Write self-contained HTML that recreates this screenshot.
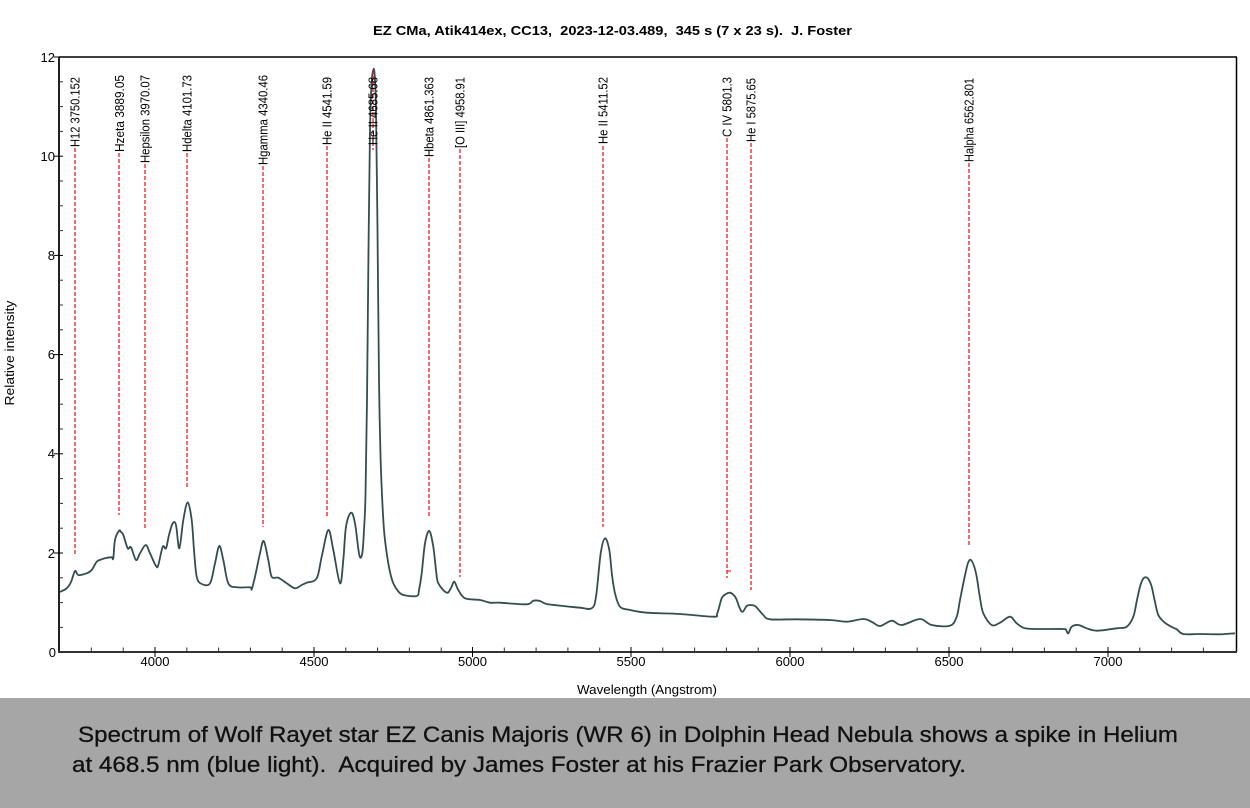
<!DOCTYPE html>
<html>
<head>
<meta charset="utf-8">
<style>
  html,body{margin:0;padding:0;background:#fff;}
  svg{display:block;}
  text{font-family:"Liberation Sans",Arial,sans-serif;white-space:pre;}
</style>
</head>
<body>
<svg width="1250" height="808" viewBox="0 0 1250 808" xmlns="http://www.w3.org/2000/svg">
  <rect x="0" y="0" width="1250" height="808" fill="#fff"/>

  <!-- Title -->
  <text x="373" y="35" font-size="13" font-weight="bold" fill="#000" textLength="479" lengthAdjust="spacingAndGlyphs">EZ CMa, Atik414ex, CC13,  2023-12-03.489,  345 s (7 x 23 s).  J. Foster</text>

  <!-- Plot frame -->
  <line x1="59" y1="57" x2="1237" y2="57" stroke="#000" stroke-width="1.5"/>
  <line x1="1236.5" y1="57" x2="1236.5" y2="652" stroke="#000" stroke-width="1.5"/>
  <line x1="59" y1="56.5" x2="59" y2="653" stroke="#222" stroke-width="2"/>
  <line x1="58" y1="652" x2="1237" y2="652" stroke="#333" stroke-width="2"/>

  <!-- Y ticks major -->
  <g stroke="#000" stroke-width="1">
    <line x1="54" y1="57" x2="63" y2="57"/>
    <line x1="54" y1="156.2" x2="63" y2="156.2"/>
    <line x1="54" y1="255.4" x2="63" y2="255.4"/>
    <line x1="54" y1="354.6" x2="63" y2="354.6"/>
    <line x1="54" y1="453.8" x2="63" y2="453.8"/>
    <line x1="54" y1="553" x2="63" y2="553"/>
  </g>
  <!-- Y ticks minor -->
  <g stroke="#333" stroke-width="1">
    <line x1="59" y1="81.8" x2="63" y2="81.8"/>
    <line x1="59" y1="106.6" x2="63" y2="106.6"/>
    <line x1="59" y1="131.4" x2="63" y2="131.4"/>
    <line x1="59" y1="181" x2="63" y2="181"/>
    <line x1="59" y1="205.8" x2="63" y2="205.8"/>
    <line x1="59" y1="230.6" x2="63" y2="230.6"/>
    <line x1="59" y1="280.2" x2="63" y2="280.2"/>
    <line x1="59" y1="305" x2="63" y2="305"/>
    <line x1="59" y1="329.8" x2="63" y2="329.8"/>
    <line x1="59" y1="379.4" x2="63" y2="379.4"/>
    <line x1="59" y1="404.2" x2="63" y2="404.2"/>
    <line x1="59" y1="429" x2="63" y2="429"/>
    <line x1="59" y1="478.6" x2="63" y2="478.6"/>
    <line x1="59" y1="503.4" x2="63" y2="503.4"/>
    <line x1="59" y1="528.2" x2="63" y2="528.2"/>
    <line x1="59" y1="577.8" x2="63" y2="577.8"/>
    <line x1="59" y1="602.6" x2="63" y2="602.6"/>
    <line x1="59" y1="627.4" x2="63" y2="627.4"/>
  </g>
  <!-- Y tick labels -->
  <g font-size="13" fill="#000" text-anchor="end">
    <text x="55" y="62">12</text>
    <text x="55" y="161">10</text>
    <text x="55" y="260">8</text>
    <text x="55" y="359">6</text>
    <text x="55" y="458">4</text>
    <text x="55" y="558">2</text>
    <text x="56" y="657">0</text>
  </g>

  <!-- X ticks major -->
  <g stroke="#000" stroke-width="1">
    <line x1="155" y1="647" x2="155" y2="657"/>
    <line x1="314" y1="647" x2="314" y2="657"/>
    <line x1="472.5" y1="647" x2="472.5" y2="657"/>
    <line x1="631" y1="647" x2="631" y2="657"/>
    <line x1="790" y1="647" x2="790" y2="657"/>
    <line x1="949" y1="647" x2="949" y2="657"/>
    <line x1="1108" y1="647" x2="1108" y2="657"/>
  </g>
  <!-- X ticks minor -->
  <g stroke="#333" stroke-width="1">
    <line x1="91.3" y1="647.5" x2="91.3" y2="652"/>
    <line x1="123.2" y1="647.5" x2="123.2" y2="652"/>
    <line x1="186.8" y1="647.5" x2="186.8" y2="652"/>
    <line x1="218.6" y1="647.5" x2="218.6" y2="652"/>
    <line x1="250.4" y1="647.5" x2="250.4" y2="652"/>
    <line x1="282.2" y1="647.5" x2="282.2" y2="652"/>
    <line x1="345.8" y1="647.5" x2="345.8" y2="652"/>
    <line x1="377.6" y1="647.5" x2="377.6" y2="652"/>
    <line x1="409.4" y1="647.5" x2="409.4" y2="652"/>
    <line x1="441.2" y1="647.5" x2="441.2" y2="652"/>
    <line x1="504.3" y1="647.5" x2="504.3" y2="652"/>
    <line x1="536.1" y1="647.5" x2="536.1" y2="652"/>
    <line x1="567.9" y1="647.5" x2="567.9" y2="652"/>
    <line x1="599.7" y1="647.5" x2="599.7" y2="652"/>
    <line x1="662.8" y1="647.5" x2="662.8" y2="652"/>
    <line x1="694.6" y1="647.5" x2="694.6" y2="652"/>
    <line x1="726.4" y1="647.5" x2="726.4" y2="652"/>
    <line x1="758.2" y1="647.5" x2="758.2" y2="652"/>
    <line x1="821.8" y1="647.5" x2="821.8" y2="652"/>
    <line x1="853.6" y1="647.5" x2="853.6" y2="652"/>
    <line x1="885.4" y1="647.5" x2="885.4" y2="652"/>
    <line x1="917.2" y1="647.5" x2="917.2" y2="652"/>
    <line x1="980.8" y1="647.5" x2="980.8" y2="652"/>
    <line x1="1012.6" y1="647.5" x2="1012.6" y2="652"/>
    <line x1="1044.4" y1="647.5" x2="1044.4" y2="652"/>
    <line x1="1076.2" y1="647.5" x2="1076.2" y2="652"/>
    <line x1="1139.8" y1="647.5" x2="1139.8" y2="652"/>
    <line x1="1171.6" y1="647.5" x2="1171.6" y2="652"/>
    <line x1="1203.4" y1="647.5" x2="1203.4" y2="652"/>
  </g>
  <!-- X tick labels -->
  <g font-size="13" fill="#000" text-anchor="middle">
    <text x="155" y="666">4000</text>
    <text x="314" y="666">4500</text>
    <text x="472.5" y="666">5000</text>
    <text x="631" y="666">5500</text>
    <text x="790" y="666">6000</text>
    <text x="949" y="666">6500</text>
    <text x="1108" y="666">7000</text>
  </g>

  <!-- Axis titles -->
  <text x="647" y="694" font-size="12.5" fill="#000" text-anchor="middle" textLength="140" lengthAdjust="spacingAndGlyphs">Wavelength (Angstrom)</text>
  <text transform="translate(14,353) rotate(-90)" font-size="12.5" fill="#000" text-anchor="middle" textLength="105" lengthAdjust="spacingAndGlyphs">Relative intensity</text>

  <!-- Spectrum -->
  <polyline id="spec" fill="none" stroke="#344e4e" stroke-width="1.8" stroke-linejoin="round" points="60,592 66.7,588.3 71,582 75,571 78.3,575 86.7,573.3 91.7,570 96.7,561.7 101.7,559.3 106,558 111.7,557.3 113.3,558.3 115,540 119,530.7 121,532 123.3,535 127.7,548.3 131,547.3 136,560 140,553.3 145.7,545 150,553.3 156,566 158.3,565 162.7,546.7 166,548.3 169,535 172.7,523.3 176,525 179.3,548.3 183.3,520 187.7,502.3 191.7,520 194,550 196.7,576.7 201.7,584 210,583.3 215,563.3 219.3,546 223.3,560 228.3,583.3 236.7,587.3 250,587.3 251.7,589.3 255,576.7 260,553.3 263.7,541 268.3,560 271.7,576.7 278.3,577.7 286.7,583.3 295,588.3 301.7,585 306.7,582.7 316.7,578.3 321.7,556.7 328.3,530 333.3,550 340,583.3 343.3,560 346,526.7 351,512.7 355,523.3 359.3,555 362.3,553.3 364,530 365.5,495 367,400 368.5,250 370,130 371.5,85 373,71 374.5,73 376,110 377.5,230 379,380 380.5,455 382,495 384,530 386.7,553.3 390,572 393.3,583.3 398,591 403.3,595 416.7,596 419,590 421.7,573.3 425,543.3 429.3,531 433.3,546.7 436,570 438.3,583.3 446.7,592.7 451,588 454.3,581.7 458.3,590 465,598.3 480,600 490,602.7 500,602.7 526.7,604.3 533.3,600.7 540,601 546.7,604 563.3,606 580,607.7 591.7,608.3 596,596.7 600.7,553.3 605,538.3 609.3,550 612,575 615,593.3 620,606.7 630,610 646.7,612.7 680,614 713.3,616.7 717.3,613.3 721.7,598.3 726,594 730,592.7 733,594.5 736,598.3 741.7,611.7 746.7,606 750.7,605 755,606 758.3,609.3 763.3,615 770,619.3 796.7,619.3 830,620 846.7,621.7 863.3,619 872,622 880,626 891.7,620.7 901.7,625 920,619 931.7,625 950,625.7 956.7,616.7 960,600 964,580 968,563 971,560 974,566 976.7,576.7 980,598 983.3,613.3 991.7,625 1000,622.7 1010,616.7 1016.7,623.3 1025,628.3 1040,629 1063.3,629 1066,630 1068.3,633.3 1071.7,626.7 1078.3,625 1086.7,628.3 1096.7,630.7 1116.7,628.3 1126.7,626.7 1133.3,616.7 1137,600 1140,586.7 1143,579 1146,577.3 1149,580 1151.7,586.7 1155,602 1158.3,615 1164,622 1170,626 1176.7,629.3 1183.3,634 1200,634 1220,634.3 1235,633.3"/>
  <path id="specs" fill="none" stroke="#344e4e" stroke-width="1.8" stroke-linejoin="round" d=""/>

  <!-- Red dashed line markers -->
  <g stroke="#ec1c24" stroke-width="1.3" stroke-dasharray="4,2" fill="none">
    <line x1="75" y1="148" x2="75" y2="556"/>
    <line x1="119" y1="153" x2="119" y2="515"/>
    <line x1="145" y1="164" x2="145" y2="530"/>
    <line x1="187" y1="153" x2="187" y2="488"/>
    <line x1="263" y1="166" x2="263" y2="527"/>
    <line x1="327" y1="146" x2="327" y2="518"/>
    <line x1="373" y1="70" x2="373" y2="150"/>
    <line x1="429" y1="158" x2="429" y2="517"/>
    <line x1="460" y1="149" x2="460" y2="577"/>
    <line x1="603" y1="146" x2="603" y2="527"/>
    <line x1="727" y1="138" x2="727" y2="578"/>
    <line x1="751" y1="143" x2="751" y2="590"/>
    <line x1="969" y1="163" x2="969" y2="547"/>
  </g>
  <line x1="727" y1="571" x2="731" y2="571" stroke="#ec1c24" stroke-width="1.2"/>

  <!-- Marker labels (rotated) -->
  <g font-size="12.5" fill="#000">
    <text transform="translate(79.5,147) rotate(-90)" textLength="70" lengthAdjust="spacingAndGlyphs">H12 3750.152</text>
    <text transform="translate(124,152) rotate(-90)" textLength="77" lengthAdjust="spacingAndGlyphs">Hzeta 3889.05</text>
    <text transform="translate(149.5,163) rotate(-90)" textLength="88" lengthAdjust="spacingAndGlyphs">Hepsilon 3970.07</text>
    <text transform="translate(191.5,152) rotate(-90)" textLength="77" lengthAdjust="spacingAndGlyphs">Hdelta 4101.73</text>
    <text transform="translate(267.5,165) rotate(-90)" textLength="90" lengthAdjust="spacingAndGlyphs">Hgamma 4340.46</text>
    <text transform="translate(331.5,145) rotate(-90)" textLength="68" lengthAdjust="spacingAndGlyphs">He II 4541.59</text>
    <text transform="translate(377.5,145) rotate(-90)" textLength="68" lengthAdjust="spacingAndGlyphs">He II 4685.68</text>
    <text transform="translate(433.5,157) rotate(-90)" textLength="80" lengthAdjust="spacingAndGlyphs">Hbeta 4861.363</text>
    <text transform="translate(464.5,148) rotate(-90)" textLength="71" lengthAdjust="spacingAndGlyphs">[O III] 4958.91</text>
    <text transform="translate(607.5,144) rotate(-90)" textLength="67" lengthAdjust="spacingAndGlyphs">He II 5411.52</text>
    <text transform="translate(731.5,137) rotate(-90)" textLength="60" lengthAdjust="spacingAndGlyphs">C IV 5801.3</text>
    <text transform="translate(755.5,142) rotate(-90)" textLength="64" lengthAdjust="spacingAndGlyphs">He I 5875.65</text>
    <text transform="translate(973.5,162) rotate(-90)" textLength="84" lengthAdjust="spacingAndGlyphs">Halpha 6562.801</text>
  </g>

  <!-- Caption band -->
  <rect x="0" y="698" width="1250" height="110" fill="#a6a6a6"/>
  <text x="78" y="742" font-size="22" fill="#111" stroke="#111" stroke-width="0.3" textLength="1100" lengthAdjust="spacingAndGlyphs">Spectrum of Wolf Rayet star EZ Canis Majoris (WR 6) in Dolphin Head Nebula shows a spike in Helium</text>
  <text x="72" y="772" font-size="22" fill="#111" stroke="#111" stroke-width="0.3" textLength="894" lengthAdjust="spacingAndGlyphs">at 468.5 nm (blue light).  Acquired by James Foster at his Frazier Park Observatory.</text>
</svg>
<script>
(function(){
  try{
    var pl=document.getElementById('spec');
    var raw=pl.getAttribute('points').trim().split(/\s+/).map(function(s){var a=s.split(',');return [parseFloat(a[0]),parseFloat(a[1])];});
    var d='M'+raw[0][0]+','+raw[0][1];
    for(var i=0;i<raw.length-1;i++){
      var p0=raw[i-1]||raw[i], p1=raw[i], p2=raw[i+1], p3=raw[i+2]||raw[i+1];
      var c1x=p1[0]+(p2[0]-p0[0])/6, c1y=p1[1]+(p2[1]-p0[1])/6;
      var c2x=p2[0]-(p3[0]-p1[0])/6, c2y=p2[1]-(p3[1]-p1[1])/6;
      d+=' C'+c1x.toFixed(2)+','+c1y.toFixed(2)+' '+c2x.toFixed(2)+','+c2y.toFixed(2)+' '+p2[0]+','+p2[1];
    }
    var ps=document.getElementById('specs');
    ps.setAttribute('d',d);
    pl.setAttribute('stroke','none');
  }catch(e){}
})();
</script>
</body>
</html>
